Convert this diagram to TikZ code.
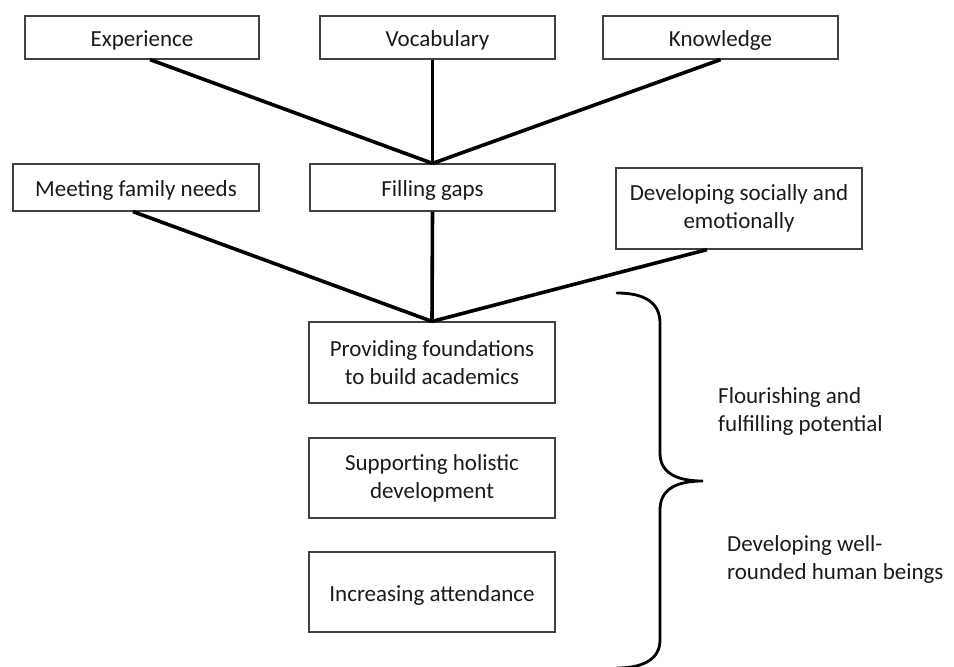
\documentclass[tikz,border=0pt]{standalone}
\usepackage{fontspec}
\setmainfont{Carlito}
\usetikzlibrary{calc}
\definecolor{boxline}{HTML}{404040}
\definecolor{txt}{HTML}{1A1A1A}
\tikzset{
  box/.style={draw=boxline, line width=1.2pt, inner sep=0pt, align=center,
    text=txt, font=\fontsize{23}{28}\selectfont},
  oneline/.style={text height=21pt, text depth=3pt},
  conn/.style={line width=3.6pt, black},
  bracelabel/.style={inner sep=0pt, align=left, anchor=west, text=txt,
    font=\fontsize{23}{28}\selectfont}
}
\begin{document}
\begin{tikzpicture}[x=1pt,y=-1pt]
\useasboundingbox (0,0) rectangle (954,667);
\node[box, oneline, minimum width=234pt, minimum height=43pt] (exp) at (142,37.5) {Experience};
\node[box, oneline, minimum width=235pt, minimum height=43pt] (voc) at (437.5,37.5) {Vocabulary};
\node[box, oneline, minimum width=235pt, minimum height=43pt] (kno) at (720.5,37.5) {Knowledge};
\node[box, oneline, minimum width=246pt, minimum height=47pt] (mee) at (136,187.5) {Meeting family needs};
\node[box, oneline, minimum width=245pt, minimum height=47pt] (fil) at (432.5,187.5) {Filling gaps};
\node[box, minimum width=246pt, minimum height=81pt] (dev) at (739,208.5) {Developing socially and\\emotionally};
\node[box, minimum width=246pt, minimum height=81pt] (pro) at (432,362.5) {Providing foundations\\to build academics};
\node[box, minimum width=246pt, minimum height=80pt] (sup) at (432,478) {Supporting holistic\\development};
\node[box, oneline, minimum width=246pt, minimum height=80pt] (inc) at (432,592) {Increasing attendance};

\draw[conn] ($(exp.south)+(8,0)$) -- (fil.north);
\draw[conn] (fil.north |- voc.south) -- (fil.north);
\draw[conn] (kno.south) -- (fil.north);
\draw[conn] ($(mee.south)+(-3,0)$) -- (pro.north);
\draw[conn] (fil.south) -- (pro.north);
\draw[conn] ($(dev.south)+(-32,0)$) -- (pro.north);

\coordinate (btop) at (617,293);
\coordinate (btip) at (703,481);
\coordinate (bbot) at (617,668);
\draw[line width=2.8pt, black, line cap=round]
  (btop) .. controls (645,293) and (660,303) .. (660,323)
  -- (660,453) .. controls (660,472) and (675,481) .. (btip)
  .. controls (675,481) and (660,490) .. (660,510)
  -- (660,640) .. controls (660,658) and (645,668) .. (bbot);

\node[bracelabel] (flo) at (718,411) {Flourishing and\\fulfilling potential};
\node[bracelabel] (wel) at (727,559) {Developing well-\\rounded human beings};
\end{tikzpicture}
\end{document}
